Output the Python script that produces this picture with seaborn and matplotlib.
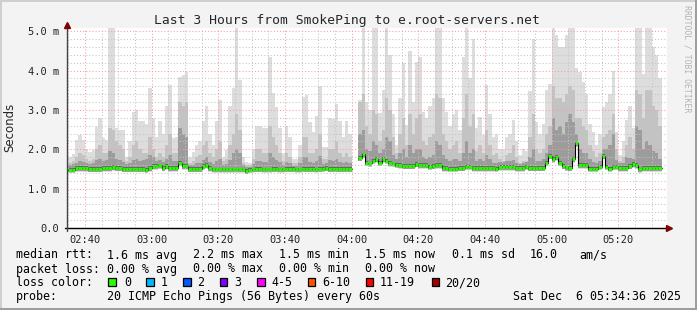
import numpy as np
import pandas as pd
import matplotlib
matplotlib.use("Agg")
import matplotlib.pyplot as plt
import matplotlib.dates as mdates
import matplotlib.ticker as mticker
from matplotlib.patches import Rectangle
import seaborn as sns

nan = np.nan

# ---------------- data (ms, one value per minute starting 02:35) ----------------
median_ms = [
    1.48, 1.48, 1.52, 1.52, 1.52, 1.52, 1.5, 1.5, 1.5, 1.5, 1.52, 1.52,
    1.52, 1.55, 1.53, 1.53, 1.5, 1.5,
    1.5, 1.5, 1.5, 1.5, 1.5, 1.48, 1.52, 1.57, 1.57, 1.59, 1.53, 1.57,
    1.52, 1.52, 1.52, 1.66, 1.57, 1.57,
    1.5, 1.5, 1.5, 1.5, 1.57, 1.6, 1.52, 1.49, 1.49, 1.49, 1.49, 1.49, 1.49, 1.49, 1.49, 1.49,
    1.49, 1.45, 1.48, 1.49, 1.5, 1.5, 1.49,
    1.49, 1.49, 1.5, 1.5, 1.49, 1.49, 1.5, 1.5, 1.5, 1.49, 1.49, 1.5, 1.5, 1.5, 1.5, 1.49,
    1.5, 1.51, 1.53, 1.5, 1.5, 1.5, 1.5, 1.5, 1.5, 1.5,
    nan, nan,
    1.78, 1.87, 1.66, 1.64, 1.71, 1.75, 1.66, 1.75, 1.71, 1.65, 1.64, 1.61, 1.6, 1.58, 1.58,
    1.58, 1.58, 1.63, 1.6, 1.6, 1.6, 1.56, 1.58, 1.6, 1.6, 1.52, 1.52, 1.51, 1.51, 1.51,
    1.53, 1.53, 1.56,
    1.56, 1.52, 1.52, 1.52, 1.52, 1.52, 1.52, 1.52, 1.51, 1.55, 1.55, 1.55, 1.55, 1.55, 1.52,
    1.52, 1.52, 1.56, 1.53, 1.53, 1.53, 1.53, 1.53, 1.66, 1.83,
    1.75, 1.8, 1.66, 1.58, 1.54, 1.53, 1.75, 2.15, 1.6, 1.6, 1.6, 1.51, 1.51, 1.51, 1.56,
    1.83, 1.56, 1.51, 1.56, 1.56, 1.52, 1.52, 1.52, 1.58, 1.62, 1.6, 1.49, 1.52, 1.52, 1.52,
    1.52, 1.52, 1.52,
]

smoke_inner_ms = [
    1.6, 1.62, 1.65, 1.7, 1.68, 1.65, 1.63, 1.65, 1.72, 1.75, 1.7, 1.72,
    1.95, 1.9, 1.75, 1.72, 1.68, 1.62,
    1.65, 1.72, 1.75, 1.7, 1.72, 1.74, 1.85, 1.8, 1.7, 1.72, 1.68, 1.75,
    1.85, 1.7, 1.7, 2.55, 2.4, 2.3,
    1.6, 1.6, 1.65, 1.65, 1.72, 1.8, 1.68, 1.62, 1.7, 1.75, 1.6, 1.62, 1.72, 1.9, 2.0, 1.9,
    1.6, 1.55, 1.55, 1.62, 1.7, 1.7, 1.68,
    1.68, 1.9, 1.8, 1.72, 1.68, 1.6, 1.68, 1.65, 1.58, 1.58, 1.65, 1.8, 1.8, 1.68, 1.65,
    1.7, 1.82, 1.62, 1.65, 1.72, 1.7, 1.75, 1.68, 1.65, 1.68, 1.65,
    nan, nan,
    2.4, 2.5, 2.0, 1.95, 2.2, 2.1, 1.9, 2.0, 2.3, 2.2, 1.85, 1.75, 1.9, 2.0, 1.8,
    2.1, 1.9, 2.0, 2.0, 1.8, 1.75, 1.8, 1.85, 2.2, 2.1, 1.85, 1.75, 1.7, 1.75, 1.75,
    1.7, 1.9, 2.2,
    1.9, 2.0, 1.7, 1.75, 1.7, 1.85, 1.75, 1.65, 1.65, 1.68, 1.68, 1.7, 1.7, 1.72, 1.65,
    1.62, 1.64, 1.68, 1.8, 2.0, 1.7, 1.7, 1.75, 1.9, 2.1,
    2.8, 2.5, 2.6, 2.4, 2.7, 2.9, 2.7, 2.4, 2.0, 1.9, 1.9, 1.75, 1.68, 1.65, 1.7,
    2.0, 2.0, 2.1, 2.4, 1.72, 1.64, 1.65, 1.8, 1.78, 1.75, 2.6, 2.5, 2.0, 2.2, 2.1,
    1.95, 1.9, 1.75,
]

smoke_mid_ms = [
    1.65, 1.7, 1.8, 1.9, 1.85, 1.75, 1.7, 1.75, 2.0, 2.1, 1.9, 1.9,
    2.55, 2.5, 2.2, 2.1, 2.0, 1.7,
    1.8, 2.1, 2.2, 2.0, 1.9, 1.9, 2.3, 2.0, 1.8, 1.9, 1.8, 2.1,
    2.4, 1.9, 1.9, 3.2, 3.1, 3.2,
    1.65, 1.7, 1.8, 1.85, 2.1, 2.2, 1.9, 1.8, 2.0, 2.2, 1.7, 1.75, 2.1, 2.4, 2.9, 2.5,
    1.65, 1.6, 1.6, 1.75, 2.0, 2.0, 1.9,
    1.9, 2.6, 2.3, 2.1, 1.9, 1.7, 1.9, 1.8, 1.65, 1.65, 1.8, 2.3, 2.3, 1.9, 1.9,
    2.0, 2.4, 1.75, 1.75, 2.0, 2.0, 2.2, 1.9, 1.8, 1.9, 1.8,
    nan, nan,
    3.2, 3.4, 2.6, 2.4, 3.0, 2.9, 2.2, 2.5, 3.3, 3.0, 2.3, 1.9, 2.4, 2.8, 2.1,
    2.9, 2.4, 2.8, 2.9, 2.2, 2.1, 2.3, 2.4, 3.4, 3.3, 2.4, 2.2, 2.0, 2.1, 2.2,
    1.9, 2.8, 3.4,
    2.6, 2.9, 1.95, 2.1, 1.9, 2.5, 2.1, 1.85, 1.9, 1.75, 1.7, 1.85, 1.9, 2.1, 1.8,
    1.65, 1.7, 1.7, 2.3, 2.9, 2.0, 1.9, 2.0, 2.4, 2.6,
    3.6, 3.3, 3.3, 3.2, 3.4, 3.6, 3.5, 2.8, 2.8, 2.6, 2.5, 2.1, 1.95, 1.8, 1.9,
    2.3, 2.4, 2.5, 2.9, 2.0, 1.7, 1.8, 2.1, 2.3, 2.0, 3.5, 3.4, 2.8, 3.5, 3.5,
    3.1, 3.0, 2.6,
]

smoke_top_ms = [
    1.81, 1.89, 2.23, 2.36, 2.23, 2.0, 1.94, 1.97, 2.57, 2.79, 2.28, 2.23,
    5.2, 5.2, 2.54, 2.5, 2.5, 1.81,
    2.2, 2.95, 3.0, 2.73, 2.73, 2.65, 3.55, 2.79, 2.3, 2.73, 2.4, 3.1,
    3.63, 2.28, 2.3, 3.84, 3.88, 3.97,
    1.81, 1.94, 2.1, 2.2, 2.73, 3.1, 2.4, 2.1, 2.73, 3.25, 1.81, 1.97, 3.1, 3.55, 5.2, 3.75,
    1.81, 1.68, 1.65, 2.0, 2.6, 2.6, 2.55,
    2.55, 4.35, 3.42, 3.07, 2.55, 1.9, 2.6, 2.3, 1.75, 1.75, 2.1, 3.33, 3.37, 2.7, 2.45,
    2.85, 3.6, 2.06, 2.06, 2.8, 2.77, 3.15, 2.73, 2.3, 2.73, 2.4,
    nan, nan,
    3.25, 5.2, 3.2, 3.0, 5.2, 5.2, 2.92, 3.5, 5.2, 4.4, 2.9, 2.1, 3.3, 4.19, 2.62,
    4.5, 3.2, 4.22, 4.35, 2.95, 2.8, 3.1, 3.3, 5.2, 5.2, 3.3, 2.95, 2.6, 2.9, 3.0,
    2.5, 4.35, 5.2,
    3.8, 4.8, 2.55, 2.83, 2.37, 3.63, 2.9, 2.3, 2.4, 2.0, 2.0, 2.3, 2.4, 2.75, 2.2,
    1.85, 2.0, 1.95, 3.48, 4.8, 2.7, 2.4, 2.65, 3.5, 3.65,
    5.2, 4.9, 4.6, 4.6, 4.9, 5.2, 5.2, 4.06, 3.96, 3.7, 3.4, 2.65, 2.45, 2.1, 2.4,
    3.08, 3.2, 3.4, 4.0, 2.45, 1.85, 2.2, 2.75, 3.1, 2.55, 5.2, 5.2, 3.9, 5.2, 5.2,
    4.6, 4.4, 3.8,
]

first_minute = "2025-12-06 02:35"
window_start = "2025-12-06 02:34:36"
window_end = "2025-12-06 05:34:36"
y_ticks = [0.0, 1.0, 2.0, 3.0, 4.0, 5.0]
y_top = 5.08

title = "Last 3 Hours from SmokePing to e.root-servers.net"
stats_rtt = ["median rtt:", "1.6 ms avg", "2.2 ms max", "1.5 ms min",
             "1.5 ms now", "0.1 ms sd", "16.0", "am/s"]
stats_loss = ["packet loss:", "0.00 % avg", "0.00 % max", "0.00 % min", "0.00 % now"]
loss_labels = ["0", "1", "2", "3", "4-5", "6-10", "11-19", "20/20"]
loss_colors = ["#26ff00", "#00b8ff", "#0059ff", "#7e00ff", "#ff00ff",
               "#ff5500", "#ff0000", "#a10000"]
probe_text = "20 ICMP Echo Pings (56 Bytes) every 60s"
date_text = "Sat Dec  6 05:34:36 2025"
watermark = "RRDTOOL / TOBI OETIKER"

# ---------------- style ----------------
sns.set_style("white")
plt.rcParams["font.family"] = ["DejaVu Sans Mono"]

W, H = 697, 310
fig = plt.figure(figsize=(W / 100, H / 100), dpi=100, facecolor="#f3f3f3")
ax = fig.add_axes([67 / W, 1 - 228 / H, 600 / W, 200 / H])
ax.set_facecolor("white")

df = pd.DataFrame({
    "time": pd.date_range(first_minute, periods=len(median_ms), freq="min"),
    "median": median_ms,
    "inner": smoke_inner_ms,
    "mid": smoke_mid_ms,
    "top": smoke_top_ms,
})
x = mdates.date2num(np.array(df["time"].dt.to_pydatetime()))
w = 1 / 1440.0
med = df["median"].to_numpy()

layers = [
    (med - 0.09, df["top"].to_numpy(), "#dddddd"),
    (med - 0.08, df["mid"].to_numpy(), "#c3c3c3"),
    (med - 0.07, df["inner"].to_numpy(), "#9c9c9c"),
    (med - 0.05, med + 0.045, "#6a6a6a"),
]
for lo, hi, col in layers:
    ax.bar(x, hi - lo, bottom=lo, width=w, align="edge", color=col,
           linewidth=0, antialiased=False, zorder=1)

# median: black connecting step line + green per-minute segments
xs = np.append(x, x[-1] + w)
ys = np.append(med, med[-1])
ax.plot(xs, ys, drawstyle="steps-post", color="black", lw=0.8, zorder=4)
ax.hlines(med, x, x + w, colors=loss_colors[0], lw=2.0, zorder=5)

# axes ranges and grid
ax.set_xlim(mdates.date2num(pd.Timestamp(window_start).to_pydatetime()),
            mdates.date2num(pd.Timestamp(window_end).to_pydatetime()))
ax.set_ylim(0, y_top)
ax.xaxis.set_major_locator(mdates.MinuteLocator(byminute=[0, 20, 40]))
ax.xaxis.set_minor_locator(mdates.MinuteLocator(byminute=range(0, 60, 5)))
ax.xaxis.set_major_formatter(mdates.DateFormatter("%H:%M"))
ax.yaxis.set_major_locator(mticker.FixedLocator(y_ticks))
ax.yaxis.set_minor_locator(mticker.MultipleLocator(0.2))
ax.yaxis.set_major_formatter(mticker.FuncFormatter(
    lambda v, p: "0.0" if v == 0 else f"{v:.1f} m"))

ax.set_axisbelow(False)
ax.grid(which="major", color="#ff9a9a", linestyle=(0, (1, 2)), linewidth=0.75)
ax.grid(which="minor", color="#c4c4c4", linestyle=(0, (1, 2)), linewidth=0.75)
for s in ax.spines.values():
    s.set_visible(False)
ax.tick_params(axis="both", which="major", length=2, width=0.8, color="#333333",
               labelsize=7.5, labelcolor="#222222")
ax.tick_params(axis="x", which="major", pad=3)
ax.tick_params(axis="y", which="major", pad=3.5)
ax.tick_params(which="minor", length=0)

# axis lines with arrows
ax.plot([-0.004, 1.0], [0, 0], transform=ax.transAxes, color="black", lw=1,
        clip_on=False, zorder=6)
ax.plot([1.003], [0], transform=ax.transAxes, marker=">", ms=4.5, color="#7f0000",
        clip_on=False, zorder=6, linestyle="none")
ax.plot([0, 0], [-0.015, 1.0], transform=ax.transAxes, color="#444444", lw=1,
        clip_on=False, zorder=6)
ax.plot([0], [1.015], transform=ax.transAxes, marker="^", ms=4.5, color="#7f0000",
        clip_on=False, zorder=6, linestyle="none")

# ---------------- texts ----------------
def ftext(px, py, s, **kw):
    fig.text(px / W, 1 - py / H, s, **kw)

ftext(347, 24, title, ha="center", va="baseline", fontsize=9.4)
ftext(10, 127, "Seconds", rotation=90, ha="center", va="center", fontsize=8.5,
      family=["DejaVu Sans"])
ftext(687, 5, watermark, rotation=270, ha="center", va="top", fontsize=5.9,
      color="#b4b4b4")

lg = dict(fontsize=8.4, va="baseline", ha="left", color="black")
for px, s in zip([16, 107, 193, 279, 365, 451.5, 530, 579], stats_rtt):
    ftext(px, 258.5, s, **lg)
for px, s in zip([16, 107, 193, 279, 365], stats_loss):
    ftext(px, 272.5, s, **lg)
ftext(16, 286.5, "loss color:", **lg)
box_x = [108, 146, 183, 220, 257, 307.5, 365.5, 431.5]
lab_x = [124, 161, 197, 234, 271, 322, 380, 445]
for bx, tx, lab, col in zip(box_x, lab_x, loss_labels, loss_colors):
    fig.add_artist(Rectangle((bx / W, 1 - 285.5 / H), 7.5 / W, 7.5 / H,
                             transform=fig.transFigure, facecolor=col,
                             edgecolor="black", lw=0.9))
    ftext(tx, 286.5, lab, **lg)
ftext(16, 300, "probe:", **lg)
ftext(107, 300, probe_text, **lg)
ftext(513, 300, date_text, **lg)

# frame
fig.add_artist(Rectangle((0, 1 - 2 / H), 1, 2 / H, transform=fig.transFigure,
                         facecolor="#cfcfcf", lw=0))
fig.add_artist(Rectangle((0, 0), 2 / W, 1, transform=fig.transFigure,
                         facecolor="#cfcfcf", lw=0))
fig.add_artist(Rectangle((1 - 2 / W, 0), 2 / W, 1, transform=fig.transFigure,
                         facecolor="#9e9e9e", lw=0))
fig.add_artist(Rectangle((0, 0), 1, 2 / H, transform=fig.transFigure,
                         facecolor="#9e9e9e", lw=0))

fig.savefig("out.png", dpi=100, facecolor=fig.get_facecolor())
